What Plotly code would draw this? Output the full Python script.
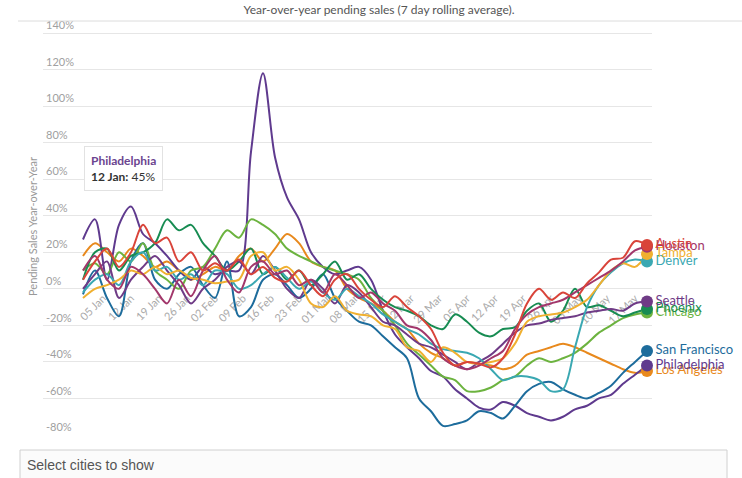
import plotly.graph_objects as go
import pandas as pd

# 48 samples, every 3 days, 31 Dec 2019 -> 20 May 2020
dates = pd.date_range("2019-12-31", periods=48, freq="3D")

x_tick_dates = ["2020-01-05", "2020-01-12", "2020-01-19", "2020-01-26", "2020-02-02",
                "2020-02-09", "2020-02-16", "2020-02-23", "2020-03-01", "2020-03-08",
                "2020-03-15", "2020-03-22", "2020-03-29", "2020-04-05", "2020-04-12",
                "2020-04-19", "2020-04-26", "2020-05-03", "2020-05-10", "2020-05-17"]
x_tick_labels = ["05 Jan", "12 Jan", "19 Jan", "26 Jan", "02 Feb", "09 Feb", "16 Feb",
                 "23 Feb", "01 Mar", "08 Mar", "15 Mar", "22 Mar", "29 Mar", "05 Apr",
                 "12 Apr", "19 Apr", "26 Apr", "03 May", "10 May", "17 May"]
y_ticks = [-80, -60, -40, -20, 0, 20, 40, 60, 80, 100, 120, 140]
y_tick_labels = ["-80%", "-60%", "-40%", "-20%", "0%", "20%", "40%", "60%", "80%",
                 "100%", "120%", "140%"]

colors = {
    "Austin": "#d9443a",
    "Houston": "#a2376b",
    "Tampa": "#f0b030",
    "Denver": "#3aa8b2",
    "Seattle": "#6f3b86",
    "Phoenix": "#178c52",
    "Chicago": "#6cb33f",
    "San Francisco": "#1d6c9c",
    "Philadelphia": "#5f3a8e",
    "Los Angeles": "#e8891d",
}

austin = [5, 15, 22, 12, 20, 35, 25, 28, 15, 20, 10, 14, 10, 16, 8, 12, 6, 4, 10, 2,
          -4, 5, 8, 0, -6, -10, -4, -10, -15, -22, -35, -42, -40, -41, -43, -38, -25, -8,
          0, -6, -2, -5, 3, 9, 16, 17, 26, 24]
houston = [10, 18, 5, 0, 12, 8, 0, -8, 5, -4, 10, 18, 5, -2, 12, 15, 8, 10, 2, 5,
           -2, 8, 2, -5, -2, -8, -12, -20, -22, -28, -38, -42, -44, -42, -38, -34, -22, -14,
           -10, -8, -6, -2, 2, 6, 10, 15, 21, 23]
tampa = [-5, 0, 2, 5, 10, 8, 12, 8, 10, 6, 5, 3, 4, 5, 18, 20, 10, 12, 5, -8,
         -10, -4, -12, -14, -15, -20, -22, -32, -34, -40, -32, -35, -40, -41, -40, -38, -30, -18,
         -15, -14, -13, -10, -6, 2, 10, 14, 12, 19]
denver = [-2, 5, 8, 2, 15, 20, 10, 12, 5, 8, 2, 10, 8, 0, 2, 8, 12, 6, 0, 4,
          -2, -6, 0, -4, -8, -14, -18, -22, -25, -30, -33, -34, -35, -38, -44, -50, -48, -48,
          -50, -56, -55, -32, -10, 2, 9, 14, 16, 15]
seattle = [0, 8, 15, -5, 5, 12, 18, 10, 2, -8, 0, 5, 12, 15, 8, 18, 10, 0, -5, 5,
           0, -8, 2, -2, -10, -18, -20, -25, -30, -32, -36, -40, -44, -40, -36, -30, -24, -20,
           -19, -17, -16, -15, -13, -12, -11, -12, -8, -7]
phoenix = [5, 20, 22, 10, 18, 20, 25, 38, 32, 35, 25, 18, 10, 15, 22, 8, 12, 5, 10, 2,
           8, 15, 5, 8, 0, -6, -10, -12, -15, -20, -22, -14, -18, -24, -26, -22, -21, -12,
           -8, -18, -12, 0, -10, -9, -12, -15, -13, -11]
chicago = [10, 14, 8, 20, 15, 25, 10, 5, 0, 10, 12, 22, 32, 28, 38, 35, 30, 22, 18, 15,
           12, 10, 8, 5, -5, -12, -20, -30, -36, -42, -48, -50, -56, -56, -54, -50, -48, -42,
           -38, -40, -38, -35, -30, -24, -20, -16, -14, -13]
san_francisco = [-3, 10, -5, -15, 15, 25, 5, 0, 8, 12, 2, -5, 15, -15, -10, 5, 8, 2, -5, 0,
                 8, -5, -12, -18, -20, -26, -32, -38, -60, -67, -75, -74, -72, -67, -68, -71, -64, -56,
                 -52, -51, -55, -58, -60, -57, -53, -46, -40, -34]
philadelphia = [27, 38, 5, 35, 45, 30, 25, 18, 10, 5, 12, 8, 10, 10, 75, 118, 72, 50, 38, 20,
                12, 8, 10, 12, 5, -12, -25, -32, -38, -45, -48, -55, -60, -65, -66, -62, -64, -68,
                -70, -72, -70, -66, -64, -60, -58, -52, -47, -42]
los_angeles = [18, 25, 20, 15, 22, 18, 12, 15, 10, 5, 8, 12, 10, 18, 22, 15, 22, 30, 25, 15,
               12, 10, 0, -5, -8, -12, -18, -22, -30, -35, -38, -42, -40, -41, -42, -44, -42, -36,
               -34, -32, -30, -32, -35, -38, -41, -44, -46, -45]

series = {
    "Austin": austin, "Houston": houston, "Tampa": tampa, "Denver": denver,
    "Seattle": seattle, "Phoenix": phoenix, "Chicago": chicago,
    "San Francisco": san_francisco, "Philadelphia": philadelphia,
    "Los Angeles": los_angeles,
}

FONT = "Lato"
fig = go.Figure()

draw_order = ["Los Angeles", "Philadelphia", "San Francisco", "Chicago", "Phoenix",
              "Seattle", "Denver", "Tampa", "Houston", "Austin"]
for c in draw_order:
    fig.add_trace(go.Scatter(
        x=dates, y=series[c], mode="lines", name=c,
        line=dict(color=colors[c], width=2, shape="spline", smoothing=0.9),
        hoverinfo="skip", showlegend=False,
    ))

for c in draw_order:
    fig.add_trace(go.Scatter(
        x=[dates[-1]], y=[series[c][-1]], mode="markers+text",
        marker=dict(color=colors[c], size=12),
        text=[c], textposition="middle right",
        textfont=dict(color=colors[c], size=13, family=FONT),
        cliponaxis=False, showlegend=False, hoverinfo="skip",
    ))

# plot area in pixels: x 43..652, y 17..436 ; 1.8273 px per percent point
L, R, T, B = 43, 652, 17, 436
PXPP = 402 / 220.0
y_lo = -80 - (B - 435) / PXPP
y_hi = 140 + (33 - T) / PXPP


def px(xp):
    return (xp - L) / (R - L)


def py(yp):
    return (B - yp) / (B - T)


shapes = [
    dict(type="line", xref="paper", yref="paper", x0=px(18), x1=px(742),
         y0=py(21), y1=py(21), line=dict(color="#dcdcdc", width=1)),
    dict(type="rect", xref="paper", yref="paper", x0=px(20), x1=px(727),
         y0=py(500), y1=py(450), line=dict(color="#d0d0d0", width=1),
         fillcolor="#fbfbfb", layer="above"),
    dict(type="path", xref="paper", yref="paper",
         path=f"M {px(115)},{py(190)} L {px(129)},{py(190)} L {px(122)},{py(198)} Z",
         fillcolor="white", line=dict(width=0), layer="above"),
]

annotations = [
    dict(xref="paper", yref="paper", x=px(25), y=py(465), xanchor="left", yanchor="middle",
         text="Select cities to show", showarrow=False,
         font=dict(family="Liberation Sans", size=14, color="#555555")),
    dict(xref="paper", yref="paper", x=px(123), y=py(191), xanchor="center", yanchor="bottom",
         text="<b><span style='color:#6b4590'>Philadelphia</span></b><br><b>12 Jan:</b> 45%",
         align="left", showarrow=False, bgcolor="white", bordercolor="#e2e2e2",
         borderwidth=1, borderpad=6,
         font=dict(family=FONT, size=12, color="#333333")),
]

fig.update_layout(
    width=742, height=478,
    margin=dict(l=L, r=742 - R, t=T, b=478 - B),
    paper_bgcolor="white", plot_bgcolor="white",
    font=dict(family=FONT, color="#999999"),
    title=dict(text="Year-over-year pending sales (7 day rolling average).",
               x=379 / 742, xref="container", xanchor="center",
               y=1 - 10 / 478, yref="container", yanchor="middle",
               font=dict(family=FONT, size=12, color="#555555")),
    shapes=shapes, annotations=annotations,
    xaxis=dict(
        type="date", range=["2019-12-21", "2020-05-21 06:00"],
        anchor="free", position=(0 - y_lo) / (y_hi - y_lo),
        tickvals=x_tick_dates, ticktext=x_tick_labels,
        tickangle=-45, showgrid=False, showline=False, zeroline=False, ticks="",
        tickfont=dict(family=FONT, size=11, color="#aaaaaa"),
        layer="below traces",
    ),
    yaxis=dict(
        range=[y_lo, y_hi], tickvals=y_ticks, ticktext=y_tick_labels,
        ticklabelposition="inside top", showgrid=True, gridcolor="#e6e6e6",
        zeroline=False, showline=False, ticks="",
        tickfont=dict(family=FONT, size=11, color="#a0a0a0"),
        title=dict(text="Pending Sales Year-over-Year", standoff=6,
                   font=dict(family=FONT, size=11, color="#999999")),
    ),
)

fig.write_html("out.html", config={"displayModeBar": False},
               post_script="document.body.style.margin='0px';")
